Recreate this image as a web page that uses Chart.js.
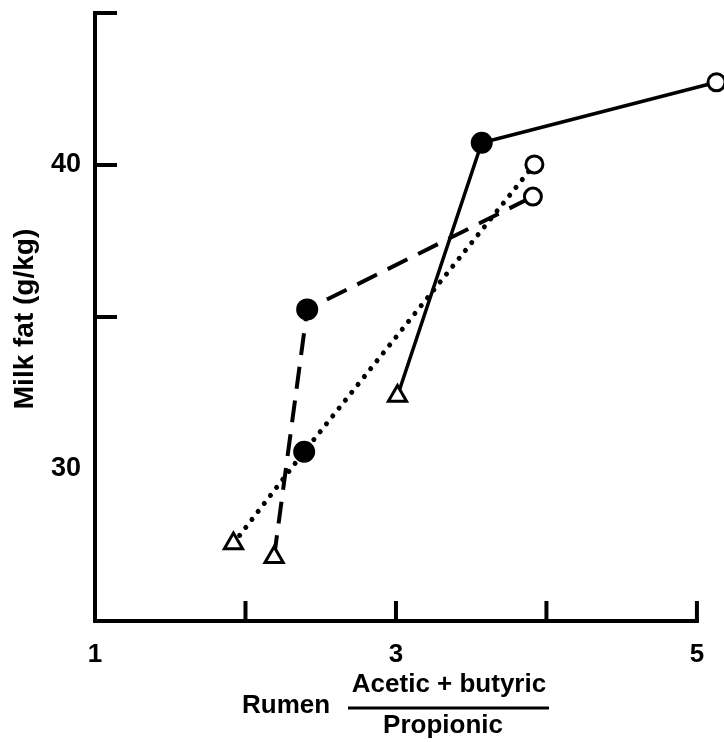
<!DOCTYPE html>
<html>
<head>
<meta charset="utf-8">
<script src="https://cdn.jsdelivr.net/npm/chart.js@4/dist/chart.umd.min.js"></script>
<style>
  body { margin: 0; background: #fff; }
  #wrap { width: 724px; height: 742px; }
</style>
</head>
<body>
<div id="wrap"><canvas id="fatChart" width="724" height="742"></canvas></div>
<script>
// ratio (acetic + butyric) / propionic vs milk fat
const solidX = [3.01, 3.57, 5.13];
const solidY = [32.4, 40.73, 42.72];
const dashedX = [2.19, 2.41, 3.91];
const dashedY = [27.1, 35.25, 38.96];
const dottedX = [1.92, 2.39, 3.92];
const dottedY = [27.55, 30.57, 40.02];

// marker per point: triangle, filled circle, open circle
const markerStyle = ['triangle', 'circle', 'circle'];
const markerFill = ['#fff', '#000', '#fff'];
const markerSize = [10.5, 9.5, 8.5];

const xTicks = [1, 2, 3, 4, 5];
const yTicks = [25, 30, 35, 40, 45];
const xLabels = [1, 3, 5];
const yLabels = [30, 40];
const X_END = 5;   // axis line stops here, last point sits past it

const FAM = '"Liberation Sans", Arial, sans-serif';

function pts(xs, ys) {
    return xs.map((x, i) => ({ x: x, y: ys[i] }));
}

function series(xs, ys, dash, width) {
    return {
        data: pts(xs, ys),
        showLine: true,
        borderColor: '#000',
        borderWidth: width,
        borderDash: dash,
        borderCapStyle: dash.length && dash[0] < 1 ? 'round' : 'butt',
        pointStyle: markerStyle,
        pointBackgroundColor: markerFill,
        pointBorderColor: '#000',
        pointBorderWidth: 3,
        pointRadius: markerSize,
        clip: false,
        tension: 0
    };
}

function noPad(s) {
    s.paddingTop = 0; s.paddingBottom = 0;
    s.paddingLeft = 0; s.paddingRight = 0;
}

// x axis line, inward tick marks and axis titles
const decor = {
    id: 'decor',
    beforeDatasetsDraw(chart) {
        const c = chart.ctx;
        const xs = chart.scales.x, ys = chart.scales.y;
        const area = chart.chartArea;
        c.save();
        c.strokeStyle = '#000';
        c.lineWidth = 4;
        c.lineCap = 'square';
        c.beginPath();
        c.moveTo(area.left, area.bottom);
        c.lineTo(xs.getPixelForValue(X_END), area.bottom);
        c.stroke();
        c.lineCap = 'butt';
        xTicks.slice(1).forEach(v => {
            const px = xs.getPixelForValue(v);
            c.beginPath();
            c.moveTo(px, area.bottom);
            c.lineTo(px, area.bottom - 20);
            c.stroke();
        });
        yTicks.slice(2).forEach(v => {
            const py = ys.getPixelForValue(v);
            c.beginPath();
            c.moveTo(area.left, py);
            c.lineTo(area.left + 22, py);
            c.stroke();
        });
        c.restore();
    },
    afterDraw(chart) {
        const c = chart.ctx;
        c.save();
        c.fillStyle = '#000';
        c.strokeStyle = '#000';
        c.textBaseline = 'middle';

        // y title
        c.save();
        c.font = 'bold 28px ' + FAM;
        c.translate(25, 319);
        c.rotate(-Math.PI / 2);
        c.textAlign = 'center';
        c.fillText('Milk fat (g/kg)', 0, 0);
        c.restore();

        // x title: Rumen (acetic + butyric) / propionic
        c.font = 'bold 26px ' + FAM;
        c.textAlign = 'left';
        c.fillText('Rumen', 242, 706);
        c.textAlign = 'center';
        c.fillText('Acetic + butyric', 449, 685);
        c.fillText('Propionic', 443, 726);
        c.lineWidth = 3;
        c.beginPath();
        c.moveTo(348, 708);
        c.lineTo(549, 708);
        c.stroke();
        c.restore();
    }
};

new Chart(document.getElementById('fatChart'), {
    type: 'scatter',
    data: {
        datasets: [
            series(solidX, solidY, [], 3.5),
            series(dashedX, dashedY, [22, 12], 4),
            series(dottedX, dottedY, [0.1, 10], 5)
        ]
    },
    options: {
        responsive: false,
        animation: false,
        layout: { autoPadding: false, padding: { top: 13, right: 3, left: 0, bottom: 0 } },
        plugins: { legend: { display: false }, tooltip: { enabled: false } },
        scales: {
            x: {
                type: 'linear',
                min: 1,
                max: 5.16,
                afterBuildTicks: s => { s.ticks = xTicks.map(v => ({ value: v })); },
                afterFit: s => { s.height = 121; noPad(s); },
                grid: { display: false },
                border: { display: false },
                ticks: {
                    padding: 10,
                    color: '#000',
                    autoSkip: false,
                    maxRotation: 0,
                    font: { family: FAM, size: 26, weight: 'bold' },
                    callback: v => xLabels.includes(v) ? String(v) : ''
                }
            },
            y: {
                type: 'linear',
                min: 25,
                max: 45,
                afterBuildTicks: s => { s.ticks = yTicks.map(v => ({ value: v })); },
                afterFit: s => { s.width = 95; noPad(s); },
                grid: { display: true, drawOnChartArea: false, drawTicks: false },
                border: { display: true, color: '#000', width: 4 },
                ticks: {
                    padding: 14,
                    color: '#000',
                    font: { family: FAM, size: 27, weight: 'bold' },
                    callback: v => yLabels.includes(v) ? String(v) : ''
                }
            }
        }
    },
    plugins: [decor]
});
</script>
</body>
</html>
